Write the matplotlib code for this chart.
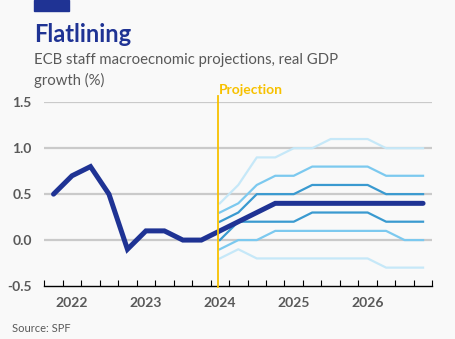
import numpy as np
import matplotlib.pyplot as plt
from matplotlib.patches import Rectangle

plt.rcParams['font.family'] = ['Lato', 'DejaVu Sans']

# quarterly GDP growth, 2021Q4 .. 2026Q4
quarters = np.arange(21)
actual = [0.5, 0.7, 0.8, 0.5, -0.1, 0.1, 0.1, 0.0, 0.0, 0.1,
          0.2, 0.3, 0.4, 0.4, 0.4, 0.4, 0.4, 0.4, 0.4, 0.4, 0.4]

# projection bands start at 2024Q1 (index 9)
proj_x = np.arange(9, 21)
upper_outer = [0.4, 0.6, 0.9, 0.9, 1.0, 1.0, 1.1, 1.1, 1.1, 1.0, 1.0, 1.0]
upper_mid = [0.3, 0.4, 0.6, 0.7, 0.7, 0.8, 0.8, 0.8, 0.8, 0.7, 0.7, 0.7]
upper_inner = [0.2, 0.3, 0.5, 0.5, 0.5, 0.6, 0.6, 0.6, 0.6, 0.5, 0.5, 0.5]
lower_inner = [0.0, 0.2, 0.2, 0.2, 0.2, 0.3, 0.3, 0.3, 0.3, 0.2, 0.2, 0.2]
lower_mid = [-0.1, 0.0, 0.0, 0.1, 0.1, 0.1, 0.1, 0.1, 0.1, 0.1, 0.0, 0.0]
lower_outer = [-0.2, -0.1, -0.2, -0.2, -0.2, -0.2, -0.2, -0.2, -0.2, -0.3, -0.3, -0.3]

year_labels = ['2022', '2023', '2024', '2025', '2026']
year_pos = [1, 5, 9, 13, 17]
yticks = [-0.5, 0.0, 0.5, 1.0, 1.5]

navy = '#1f3394'
c_dark = '#3a9ad0'
c_mid = '#7cc9ef'
c_light = '#c6e8f8'
yellow = '#f7c100'
grey = '#595959'
bg = '#f9f9f9'

fig = plt.figure(figsize=(4.56, 3.39), dpi=100, facecolor=bg)
ax = fig.add_axes([44.3 / 456, 1 - 286 / 339, 388 / 456, 183.7 / 339])
ax.set_facecolor(bg)

for v in yticks[1:]:
    ax.axhline(v, color='#cacaca', lw=1.6, zorder=1)

ax.plot(proj_x, upper_outer, color=c_light, lw=1.6, zorder=2)
ax.plot(proj_x, lower_outer, color=c_light, lw=1.6, zorder=2)
ax.plot(proj_x, upper_mid, color=c_mid, lw=1.6, zorder=3)
ax.plot(proj_x, lower_mid, color=c_mid, lw=1.6, zorder=3)
ax.plot(proj_x, upper_inner, color=c_dark, lw=1.6, zorder=4)
ax.plot(proj_x, lower_inner, color=c_dark, lw=1.6, zorder=4)
ax.plot(quarters, actual, color=navy, lw=3.6, solid_capstyle='round',
        solid_joinstyle='miter', zorder=5)

ax.set_xlim(-0.5, 20.5)
ax.set_ylim(-0.5, 1.5)

# projection marker
ax.plot([8.92, 8.92], [-0.51, 1.57], color=yellow, lw=1.3, clip_on=False, zorder=6)
ax.text(8.95, 1.565, 'Projection', color=yellow, fontsize=10, fontweight='bold',
        ha='left', va='bottom')

for s in ['top', 'right', 'left']:
    ax.spines[s].set_visible(False)
ax.spines['bottom'].set_color('black')
ax.spines['bottom'].set_linewidth(1.0)

ax.set_xticks(np.arange(-0.5, 21, 1), minor=True)
ax.set_xticks(year_pos)
ax.set_xticklabels(year_labels)
ax.tick_params(axis='x', which='minor', direction='in', length=4, width=0.8, color='black')
ax.tick_params(axis='x', which='major', length=0, pad=8, labelsize=10, labelcolor=grey)
ax.set_yticks(yticks)
ax.set_yticklabels(['%.1f' % v for v in yticks])
ax.tick_params(axis='y', length=0, pad=9, labelsize=10, labelcolor=grey)
for lab in ax.get_xticklabels() + ax.get_yticklabels():
    lab.set_fontweight('bold')

fig.patches.append(Rectangle((34 / 456, 1 - 10.5 / 339), 35 / 456, 10.5 / 339,
                             transform=fig.transFigure, color=navy))
fig.text(34 / 456, 1 - 35 / 339, 'Flatlining', color=navy, fontsize=17,
         fontweight='bold', va='center')
fig.text(34 / 456, 1 - 60 / 339, 'ECB staff macroecnomic projections, real GDP',
         color=grey, fontsize=10.7, va='center')
fig.text(34 / 456, 1 - 80 / 339, 'growth (%)',
         color=grey, fontsize=10.7, va='center')
fig.text(12 / 456, 1 - 328 / 339, 'Source: SPF', color=grey, fontsize=8, va='center')

fig.savefig('out.png', dpi=100, facecolor=bg)
